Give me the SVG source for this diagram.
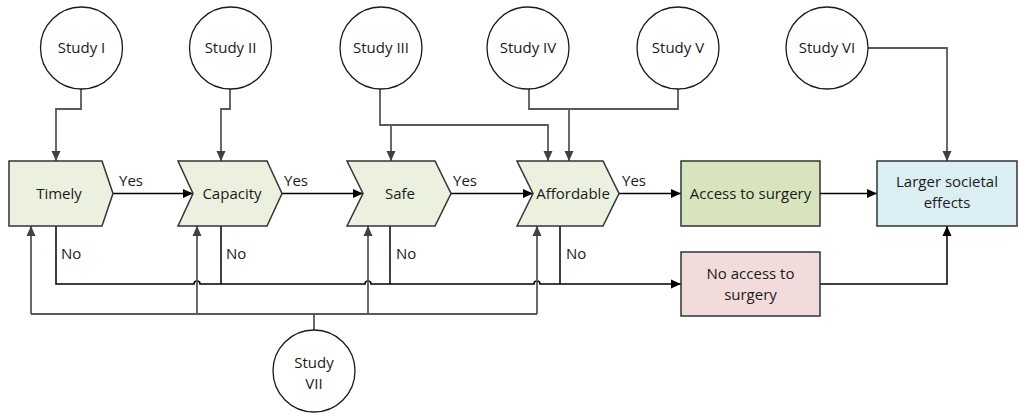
<svg xmlns="http://www.w3.org/2000/svg" width="1020" height="413" viewBox="0 0 1020 413">
<defs>
<marker id="ag" viewBox="0 0 10 10" refX="10" refY="5" markerWidth="10" markerHeight="10" markerUnits="userSpaceOnUse" orient="auto"><path d="M0,0.5 L10,5 L0,9.5 Z" fill="#404040"/></marker>
<marker id="ab" viewBox="0 0 10 10" refX="10" refY="5" markerWidth="10" markerHeight="10" markerUnits="userSpaceOnUse" orient="auto"><path d="M0,0.5 L10,5 L0,9.5 Z" fill="#000"/></marker>
<style>
text{font-family:"Open Sans","Noto Sans",sans-serif;font-size:15px;fill:#1a1a1a;text-anchor:middle}
.lbl{text-anchor:start}
.circ{fill:#fff;stroke:#1a1a1a;stroke-width:1.3}
.chev{fill:#ebf1de;stroke:#333;stroke-width:1.5}
.g{fill:none;stroke:#595959;stroke-width:1.8}
.k{fill:none;stroke:#000;stroke-width:1.5}
</style>
</defs>
<g id="connectors">
<path class="g" d="M81,89 V109 H56 V161" marker-end="url(#ag)"/>
<path class="g" d="M230,89 V109 H221 V161" marker-end="url(#ag)"/>
<path class="g" d="M380,89 V125 H548 V161" marker-end="url(#ag)"/>
<path class="g" d="M391,125 V161" marker-end="url(#ag)"/>
<path class="g" d="M529,89 V109 H678 V89"/>
<path class="g" d="M569,109 V161" marker-end="url(#ag)"/>
<path class="g" d="M868,48 H947 V161" marker-end="url(#ag)"/>
<path class="k" d="M113,193.5 H193" marker-end="url(#ab)"/>
<path class="k" d="M282,193.5 H363" marker-end="url(#ab)"/>
<path class="k" d="M451,193.5 H533" marker-end="url(#ab)"/>
<path class="k" d="M619,193.5 H681" marker-end="url(#ab)"/>
<path class="k" d="M820,193.5 H877" marker-end="url(#ab)"/>
<path class="k" d="M820,284 H947 V226" marker-end="url(#ab)"/>
<path class="k" d="M56,226 V284 H194 a3,3 0 0 1 6,0 H365 a3,3 0 0 1 6,0 H534 a3,3 0 0 1 6,0 H681" marker-end="url(#ab)"/>
<path class="k" d="M221,226 V284"/>
<path class="k" d="M390,226 V284"/>
<path class="k" d="M560,226 V284"/>
<path class="g" d="M314,330 V314"/>
<path class="g" d="M31,314 H537"/>
<path class="g" d="M31,314 V226" marker-end="url(#ag)"/>
<path class="g" d="M197,314 V226" marker-end="url(#ag)"/>
<path class="g" d="M368,314 V226" marker-end="url(#ag)"/>
<path class="g" d="M537,314 V226" marker-end="url(#ag)"/>
</g>
<g id="labels">
<text class="lbl" x="119" y="186">Yes</text>
<text class="lbl" x="284" y="186">Yes</text>
<text class="lbl" x="453" y="186">Yes</text>
<text class="lbl" x="622" y="186">Yes</text>
<text class="lbl" x="61" y="259">No</text>
<text class="lbl" x="226" y="259">No</text>
<text class="lbl" x="396" y="259">No</text>
<text class="lbl" x="566" y="259">No</text>
</g>
<g id="study1"><circle class="circ" cx="81.5" cy="48" r="41"/><text x="81.5" y="53">Study I</text></g>
<g id="study2"><circle class="circ" cx="230.5" cy="48" r="41"/><text x="230.5" y="53">Study II</text></g>
<g id="study3"><circle class="circ" cx="381" cy="48" r="41"/><text x="381" y="53">Study III</text></g>
<g id="study4"><circle class="circ" cx="528" cy="48" r="41"/><text x="528" y="53">Study IV</text></g>
<g id="study5"><circle class="circ" cx="678" cy="48" r="41"/><text x="678" y="53">Study V</text></g>
<g id="study6"><circle class="circ" cx="827" cy="48" r="41"/><text x="827" y="53">Study VI</text></g>
<g id="study7"><circle class="circ" cx="314" cy="371" r="41"/><text x="314" y="368">Study</text><text x="314" y="389">VII</text></g>
<g id="timely"><path class="chev" d="M9,161 H102 L113,193.5 L102,226 H9 Z"/><text x="59" y="199">Timely</text></g>
<g id="capacity"><path class="chev" d="M178,161 H267 L282,193.5 L267,226 H178 L193,193.5 Z"/><text x="232" y="199">Capacity</text></g>
<g id="safe"><path class="chev" d="M347,161 H435 L451,193.5 L435,226 H347 L363,193.5 Z"/><text x="400" y="199">Safe</text></g>
<g id="affordable"><path class="chev" d="M517,161 H603 L619,193.5 L603,226 H517 L533,193.5 Z"/><text x="573" y="199">Affordable</text></g>
<g id="access"><rect x="681" y="161" width="139" height="65" fill="#d7e4bd" stroke="#333" stroke-width="1.5"/><text x="750.5" y="199">Access to surgery</text></g>
<g id="noaccess"><rect x="681" y="252" width="139" height="64" fill="#f2dcdb" stroke="#333" stroke-width="1.5"/><text x="750.5" y="279">No access to</text><text x="750.5" y="300">surgery</text></g>
<g id="larger"><rect x="877" y="161" width="140" height="65" fill="#dbeef4" stroke="#333" stroke-width="1.5"/><text x="947" y="187">Larger societal</text><text x="947" y="208">effects</text></g>
</svg>
